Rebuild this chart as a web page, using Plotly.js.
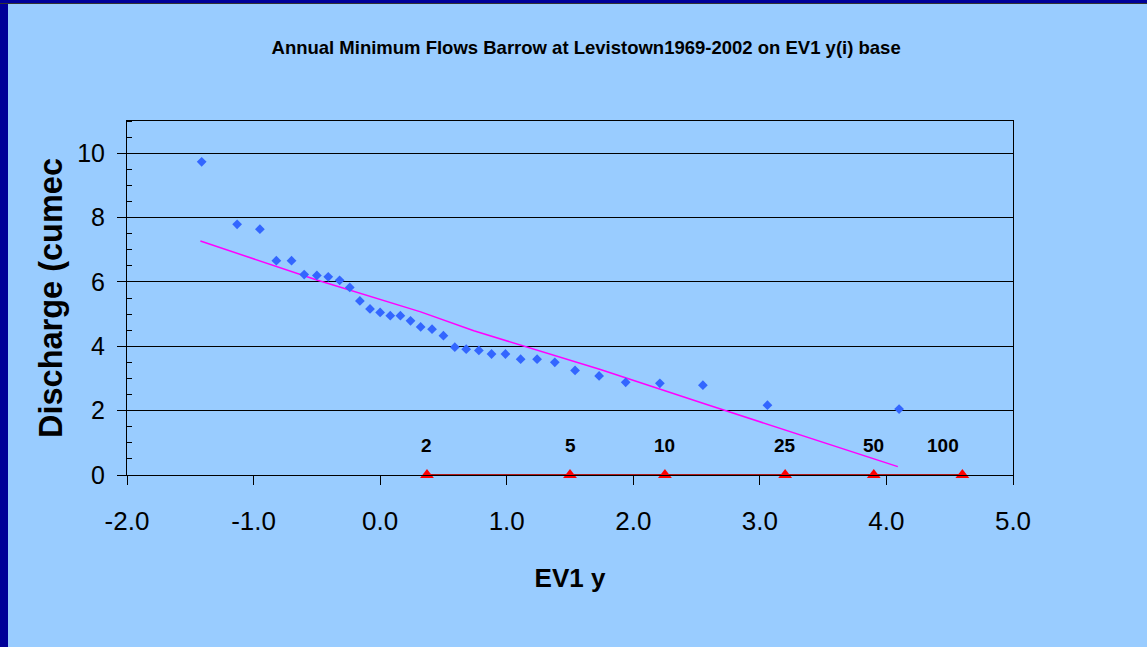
<!DOCTYPE html>
<html><head><meta charset="utf-8">
<script src="https://cdn.plot.ly/plotly-3.0.1.min.js"></script>
<style>
html,body{margin:0;padding:0;background:#99CCFF;overflow:hidden}
#chart{position:absolute;left:0;top:0;width:1147px;height:647px}
#bl{position:absolute;left:0;top:0;width:8px;height:647px;background:#000099}
#bt{position:absolute;left:0;top:0;width:1147px;height:3px;background:#000099;border-bottom:1px solid #333}
</style></head><body>
<div id="chart"></div><div id="bl"></div><div id="bt"></div>
<script>
// EV1 reduced variate y(i) of each ranked annual minimum flow
const ev1 = [-1.41,-1.13,-0.95,-0.82,-0.70,-0.60,-0.50,-0.41,-0.32,-0.24,-0.16,-0.08,0.00,0.08,0.16,0.24,0.32,0.41,0.50,0.59,0.68,0.78,0.88,0.99,1.11,1.24,1.38,1.54,1.73,1.94,2.21,2.55,3.06,4.10];
// Discharge (cumec)
const discharge = [9.73,7.79,7.64,6.66,6.66,6.23,6.20,6.16,6.05,5.83,5.41,5.16,5.05,4.95,4.95,4.79,4.60,4.53,4.33,3.97,3.91,3.87,3.76,3.76,3.60,3.60,3.50,3.25,3.08,2.88,2.85,2.79,2.17,2.05];
// fitted line
const trendX = [-1.42,-0.50,0.32,0.74,1.74,2.55,4.09];
const trendY = [7.27,6.06,5.07,4.48,3.28,2.23,0.26];
// return periods marked on the EV1 axis
const rpLabels = ['2','5','10','25','50','100'];
const rpEV1 = [0.37,1.50,2.25,3.20,3.90,4.60];
const rpBase = [0,0,0,0,0,0];
// axis ticks
const xTickVals = [-2,-1,0,1,2,3,4,5];
const xTickText = ['-2.0','-1.0','0.0','1.0','2.0','3.0','4.0','5.0'];
const yTickVals = [0,2,4,6,8,10];
const yTickText = ['0','2','4','6','8','10'];

const sans = 'Liberation Sans, Arial, sans-serif';

const traces = [
  {x: trendX, y: trendY, mode:'lines', line:{color:'#FF00FF', width:1.5}, hoverinfo:'skip'},
  {x: rpEV1, y: rpBase, mode:'lines+markers', cliponaxis:false,
   line:{color:'#B01818', width:2},
   marker:{symbol:'triangle-up', size:12, color:'#FF0000'}},
  {x: ev1, y: discharge, mode:'markers',
   marker:{symbol:'diamond', size:7.5, color:'#3366FF'}}
];

const annotations = rpLabels.map((t,i)=>({
  x: rpEV1[i], y: 0, xref:'x', yref:'y', text:t, showarrow:false,
  yshift: 30, xshift: t==='100' ? -19 : 0,
  font:{family:sans, size:19, color:'#000', weight:'bold'}
}));

const layout = {
  width:1147, height:647,
  paper_bgcolor:'#99CCFF', plot_bgcolor:'#99CCFF',
  margin:{l:127, r:134, t:121, b:172, pad:0},
  showlegend:false,
  title:{text:'Annual Minimum Flows Barrow at Levistown1969-2002 on EV1 y(i) base',
    x:0.511, xanchor:'center', y:0.927, yanchor:'middle',
    font:{family:sans, size:18.5, color:'#000', weight:'bold'}},
  xaxis:{range:[-2,5], tickmode:'array', tickvals:xTickVals, ticktext:xTickText,
    showline:true, linecolor:'#000', linewidth:1, mirror:true,
    showgrid:false, zeroline:false,
    ticks:'outside', ticklen:9, tickcolor:'#000',
    ticklabelstandoff:14,
    tickfont:{family:sans, size:26, color:'#000'},
    title:{text:'EV1 y', standoff:33, font:{family:sans, size:26, color:'#000', weight:'bold'}}},
  yaxis:{range:[0,11], tickmode:'array', tickvals:yTickVals, ticktext:yTickText,
    showline:true, linecolor:'#000', linewidth:1, mirror:true,
    showgrid:true, gridcolor:'#000', gridwidth:1, zeroline:false,
    ticks:'outside', ticklen:9, tickcolor:'#000',
    ticklabelstandoff:7,
    minor:{tickmode:'linear', tick0:0, dtick:0.5, ticks:'inside', ticklen:5, tickcolor:'#000', showgrid:false},
    tickfont:{family:sans, size:25, color:'#000'},
    title:{text:'Discharge (cumec', standoff:4, font:{family:sans, size:32.5, color:'#000', weight:'bold'}}},
  annotations: annotations
};

Plotly.newPlot('chart', traces, layout, {displayModeBar:false, staticPlot:true});
</script>
</body></html>
